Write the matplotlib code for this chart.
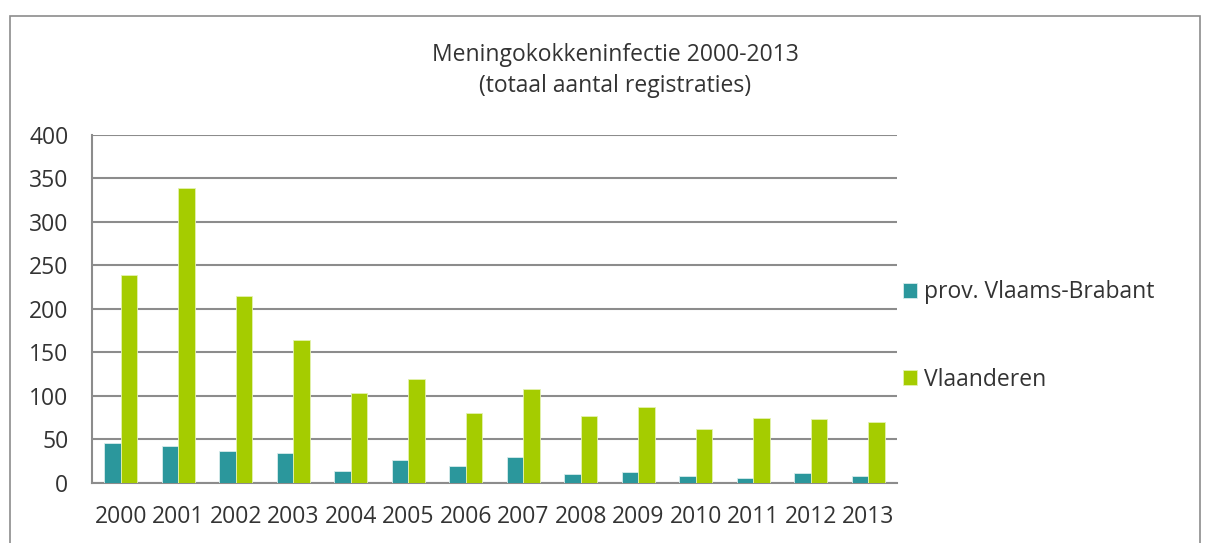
import numpy as np
import matplotlib.pyplot as plt
from matplotlib.patches import Rectangle

plt.rcParams['font.family'] = ['Open Sans', 'DejaVu Sans']

years = ['2000', '2001', '2002', '2003', '2004', '2005', '2006',
         '2007', '2008', '2009', '2010', '2011', '2012', '2013']
vlaams_brabant = [46, 42, 37, 35, 14, 27, 20, 30, 10, 13, 8, 6, 12, 8]
vlaanderen = [239, 339, 215, 164, 103, 119, 80, 108, 77, 87, 62, 75, 74, 70]

teal = '#2B979C'
green = '#A5CC00'
grid_col = '#8C8C8C'
text_col = '#333333'

fig = plt.figure(figsize=(12.09, 5.43), dpi=100)
ax = fig.add_axes([0.0761, 0.1105, 0.6658, 0.641])

x = np.arange(len(years))
w = 0.284
ax.bar(x - w / 2, vlaams_brabant, w, color=teal, edgecolor='#D8ECEC',
       linewidth=0.6, label='prov. Vlaams-Brabant', zorder=3)
ax.bar(x + w / 2, vlaanderen, w, color=green, edgecolor='#E4F2B0',
       linewidth=0.6, label='Vlaanderen', zorder=3)

ax.set_xlim(-0.5, len(years) - 0.5)
ax.set_ylim(0, 400)
ax.set_yticks(range(0, 401, 50))
ax.set_xticks(x)
ax.set_xticklabels(years)
ax.yaxis.grid(True, color=grid_col, linewidth=1.5, zorder=0)
ax.set_axisbelow(True)
for s in ['top', 'right']:
    ax.spines[s].set_visible(False)
for s in ['left', 'bottom']:
    ax.spines[s].set_color(grid_col)
    ax.spines[s].set_linewidth(1.5)
ax.tick_params(length=0, labelsize=16.5, colors=text_col)
ax.tick_params(axis='x', pad=16)
ax.tick_params(axis='y', pad=17)

leg = ax.legend(loc='center left', bbox_to_anchor=(898 / 1209, 1 - 336 / 543),
                bbox_transform=fig.transFigure, frameon=False,
                fontsize=16.5, handlelength=0.65, handleheight=0.65,
                handletextpad=0.3, labelspacing=2.75, borderpad=0.2,
                borderaxespad=0)
for t in leg.get_texts():
    t.set_color(text_col)

fig.text(615 / 1209, 1 - 55 / 543, 'Meningokokkeninfectie 2000-2013',
         ha='center', va='center', fontsize=16.5, color=text_col)
fig.text(615 / 1209, 1 - 86 / 543, '(totaal aantal registraties)',
         ha='center', va='center', fontsize=16.5, color=text_col)

# chart frame
fig.patches.append(Rectangle((10 / 1209, -0.05), 1190 / 1209, 1.05 - 16 / 543,
                             transform=fig.transFigure, fill=False,
                             edgecolor='#8C8C8C', linewidth=1.2))

plt.savefig('out.png', dpi=100)
